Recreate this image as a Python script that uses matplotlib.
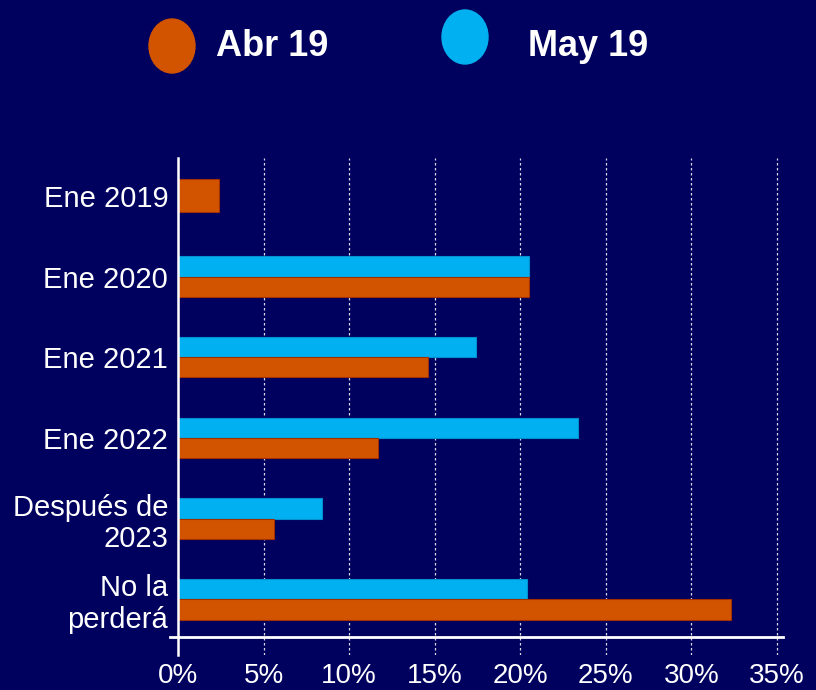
import numpy as np
import matplotlib.pyplot as plt
from matplotlib.patches import Ellipse

categories = ['Ene 2019', 'Ene 2020', 'Ene 2021', 'Ene 2022', 'Después de\n2023', 'No la\nperderá']
abr19 = [2.4, 20.5, 14.6, 11.7, 5.6, 32.3]
may19 = [np.nan, 20.5, 17.4, 23.4, 8.4, 20.4]
xticks = [0, 5, 10, 15, 20, 25, 30, 35]

bg = '#00005E'
orange = '#D35400'
blue = '#00B0F0'

plt.rcParams['font.family'] = ['Liberation Sans', 'DejaVu Sans']

fig = plt.figure(figsize=(8.16, 6.90), dpi=100, facecolor=bg)
# x range a little past 35% so the last gridline is not clipped
ax = fig.add_axes([0.2181, 0.0507, 0.7361, 0.7203], facecolor=bg)

y = np.arange(len(categories))
h = 0.25
for i in range(len(categories)):
    if np.isnan(may19[i]):
        ax.barh(y[i], abr19[i], height=0.41, color=orange, edgecolor='#A03000', linewidth=0.8)
    else:
        ax.barh(y[i] - h / 2, may19[i], height=h, color=blue, edgecolor='#0090D0', linewidth=0.8)
        ax.barh(y[i] + h / 2, abr19[i], height=h, color=orange, edgecolor='#A03000', linewidth=0.8)

ax.set_xlim(0, 35.1)
ax.set_ylim(5.69, -0.47)
ax.set_yticks(y)
ax.set_yticklabels(categories, color='white', fontsize=21, linespacing=1.15)
ax.set_xticks(xticks)
ax.set_xticklabels([f'{t}%' for t in xticks], color='white', fontsize=20)
ax.tick_params(axis='both', length=0)
ax.tick_params(axis='x', pad=6)
ax.tick_params(axis='y', pad=7)

for s in ['top', 'right', 'bottom']:
    ax.spines[s].set_visible(False)
ax.spines['left'].set_color('white')
ax.spines['left'].set_linewidth(1.8)

ax.set_axisbelow(True)
ax.grid(axis='x', color='white', linestyle=(0, (2, 2)), linewidth=0.9, alpha=0.85)

# horizontal base line
ax.plot([-0.45, 35.35], [5.47, 5.47], color='white', linewidth=2, clip_on=False)

# legend
fig.add_artist(Ellipse((172 / 816, 1 - 46 / 690), 46 / 816, 54 / 690,
                       transform=fig.transFigure, color=orange))
fig.text(216 / 816, 1 - 46 / 690, 'Abr 19', color='white', fontsize=26,
         fontweight='bold', va='center', ha='left')
fig.add_artist(Ellipse((465 / 816, 1 - 37 / 690), 46 / 816, 54 / 690,
                       transform=fig.transFigure, color=blue))
fig.text(528 / 816, 1 - 46 / 690, 'May 19', color='white', fontsize=26,
         fontweight='bold', va='center', ha='left')

fig.savefig('out.png', dpi=100, facecolor=bg)
